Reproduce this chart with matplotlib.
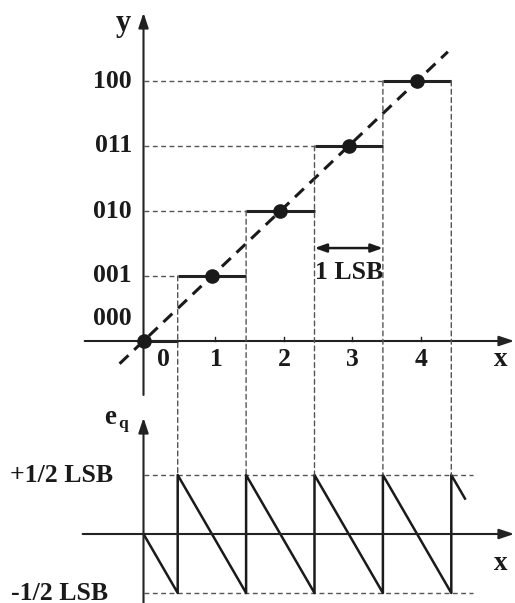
import numpy as np
import matplotlib
matplotlib.use("Agg")
import matplotlib.pyplot as plt
from matplotlib.patches import ConnectionPatch

# Quantizer transfer data (input x in LSB units)
codes = ["000", "001", "010", "011", "100"]
levels = [0, 1, 2, 3, 4]
step_starts = [0.0, 0.5, 1.5, 2.5, 3.5]
step_ends = [0.5, 1.5, 2.5, 3.5, 4.5]
x_ticks = [0, 1, 2, 3, 4]
tick_labels = ["0", "1", "2", "3", "4"]
ideal_line = [-0.35, 4.45]

# Quantization error e_q = Q(x) - x, sawtooth vertices
err_x = [0.0, 0.5, 0.5, 1.5, 1.5, 2.5, 2.5, 3.5, 3.5, 4.5, 4.5, 4.7]
err_y = [0.0, -0.5, 0.5, -0.5, 0.5, -0.5, 0.5, -0.5, 0.5, -0.5, 0.5, 0.3]
err_levels = [0.5, -0.5]
err_labels = ["+1/2 LSB", "-1/2 LSB"]
err_label_right = [-0.44, -0.52]

W, H = 515, 603
fig = plt.figure(figsize=(W / 100, H / 100), dpi=100)

serif = ["Liberation Serif", "DejaVu Serif"]
fs = 18.5

top_h = 405
ax = fig.add_axes([0, (H - top_h) / H, 1, top_h / H])
bx = fig.add_axes([0, 0, 1, (H - top_h) / H])

xu, x0 = 68.4, 143.5
xlim = (-x0 / xu, (W - x0) / xu)
yu, y0 = 65.0, 341.0
ax.set_xlim(*xlim)
ax.set_ylim((y0 - top_h) / yu, y0 / yu)
eu, e0 = 118.0, 534.0 - top_h
bx.set_xlim(*xlim)
bx.set_ylim(-((H - top_h) - e0) / eu, e0 / eu)
for a in (ax, bx):
    a.axis("off")

ink = "#1a1a1a"
dash_grey = dict(color="#555555", lw=1.0, ls=(0, (3.5, 2.5)))
axis_kw = dict(annotation_clip=False,
               arrowprops=dict(arrowstyle="-|>,head_length=0.9,head_width=0.3",
                               color="#222222", lw=1.5, shrinkA=0, shrinkB=0))
txt = dict(fontweight="bold", family=serif, color=ink)

# --- transfer characteristic ---
ax.annotate("", xy=(0, 5.05), xytext=(0, -0.83), **axis_kw)
ax.annotate("", xy=(5.42, 0), xytext=(-0.86, 0), **axis_kw)
for t in x_ticks[1:]:
    ax.plot([t + 0.05, t + 0.05], [0, 0.06], color="#222222", lw=1.0)

# guide lines from y axis to each code transition
for s, lv in zip(step_starts[1:], levels[1:]):
    ax.plot([0, s], [lv, lv], **dash_grey)

# ideal straight line
ax.plot(ideal_line, ideal_line, color=ink, lw=2.2, ls=(0, (4, 2.6)))

# staircase steps and midpoint dots
for s, e, lv in zip(step_starts, step_ends, levels):
    ax.plot([s, e], [lv, lv], color="#222222", lw=2.2, solid_capstyle="butt")
ax.plot(levels, levels, "o", color=ink, ms=9.5, zorder=5)

# vertical connectors from transitions down to the error plot
conn_x = step_ends
conn_y = levels[1:] + [levels[-1]]
for cx, cy in zip(conn_x, conn_y):
    cp = ConnectionPatch(xyA=(cx, cy), coordsA=ax.transData,
                         xyB=(cx, 0.5), coordsB=bx.transData,
                         color="#555555", lw=1.0, ls=(0, (3.5, 2.5)))
    fig.add_artist(cp)

# 1 LSB marker
ax.annotate("", xy=(2.5, 1.43), xytext=(3.5, 1.43), annotation_clip=False,
            arrowprops=dict(arrowstyle="<|-|>,head_length=0.7,head_width=0.25",
                            color=ink, lw=1.8, shrinkA=0, shrinkB=0))
ax.text(3.0, 1.05, "1 LSB", ha="center", va="center", fontsize=fs, **txt)

# labels
ax.text(-0.30, 4.88, "y", ha="center", va="center", fontsize=22, **txt)
for c, lv in zip(codes, levels):
    yy = lv if lv > 0 else 0.35
    ax.text(-0.17, yy, c, ha="right", va="center", fontsize=fs, **txt)
for t, lab in zip(x_ticks, tick_labels):
    tx = 0.29 if t == 0 else t + 0.06
    ax.text(tx, -0.29, lab, ha="center", va="center", fontsize=fs, **txt)
ax.text(5.22, -0.28, "x", ha="center", va="center", fontsize=fs + 1, **txt)

# --- quantization error ---
bx.annotate("", xy=(0, 0.985), xytext=(0, -0.6), **axis_kw)
bx.annotate("", xy=(5.42, 0), xytext=(-0.89, 0), **axis_kw)
for lv in err_levels:
    bx.plot([0, 4.81], [lv, lv], **dash_grey)
bx.plot(err_x, err_y, color=ink, lw=1.8)

for lv, lab, xr in zip(err_levels, err_labels, err_label_right):
    bx.text(xr, lv, lab, ha="right", va="center", fontsize=fs, **txt)
bx.text(-0.49, 0.99, "e", ha="center", va="center", fontsize=fs + 1, **txt)
bx.text(-0.30, 0.93, "q", ha="center", va="center", fontsize=12.5, **txt)
bx.text(5.22, -0.25, "x", ha="center", va="center", fontsize=fs + 1, **txt)

fig.savefig("out.png", dpi=100)
